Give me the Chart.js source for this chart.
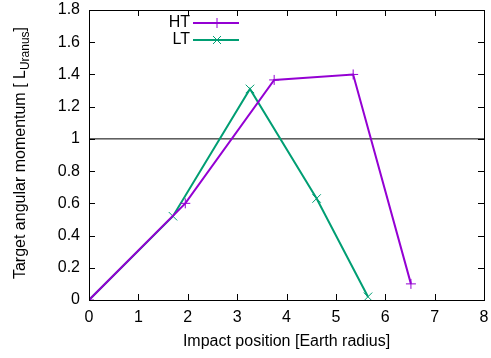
<!DOCTYPE html>
<html>
<head>
<meta charset="utf-8">
<script src="https://cdn.jsdelivr.net/npm/chart.js@4/dist/chart.umd.min.js"></script>
<style>
  html, body { margin: 0; padding: 0; background: #fff; }
  #wrap { width: 491px; height: 358px; }
</style>
</head>
<body>
<div id="wrap"><canvas id="grafico" width="491" height="358"></canvas></div>
<script>
// datos
var htX = [0, 1.95, 3.75, 5.35, 6.52];
var htY = [0, 0.60, 1.366, 1.40, 0.10];
var ltX = [0, 1.70, 3.26, 4.61, 5.65];
var ltY = [0, 0.52, 1.31, 0.63, 0.02];
var refX = [0, 8];
var refY = [1, 1];
var xTickLabels = ['0', '1', '2', '3', '4', '5', '6', '7', '8'];
var yTickLabels = ['0', '0.2', '0.4', '0.6', '0.8', '1', '1.2', '1.4', '1.6', '1.8'];

var FUENTE = '"Liberation Sans", Arial, Helvetica, sans-serif';
var PURPURA = '#9400d3';
var VERDE = '#009e73';
var TAM = 16;

function puntos(xs, ys) {
    return xs.map(function(x, i) { return { x: x, y: ys[i] }; });
}

// marco, ticks hacia adentro, titulos de ejes y leyenda estilo gnuplot
var decorado = {
    id: 'decorado',
    afterDraw: function(chart) {
        var ctx = chart.ctx;
        var a = chart.chartArea;
        var sx = chart.scales.x, sy = chart.scales.y;
        ctx.save();
        ctx.strokeStyle = '#000';
        ctx.lineWidth = 1;
        ctx.beginPath();
        xTickLabels.forEach(function(t, i) {
            var px = Math.round(sx.getPixelForValue(i)) + 0.5;
            ctx.moveTo(px, a.bottom); ctx.lineTo(px, a.bottom - 6);
            ctx.moveTo(px, a.top); ctx.lineTo(px, a.top + 6);
        });
        yTickLabels.forEach(function(t, i) {
            var py = Math.round(sy.getPixelForValue(i * 0.2)) + 0.5;
            ctx.moveTo(a.left, py); ctx.lineTo(a.left + 6, py);
            ctx.moveTo(a.right, py); ctx.lineTo(a.right - 6, py);
        });
        ctx.stroke();
        ctx.strokeRect(Math.round(a.left) + 0.5, Math.round(a.top) + 0.5,
            Math.round(a.right - a.left), Math.round(a.bottom - a.top));

        // titulo eje x
        ctx.fillStyle = '#000';
        ctx.font = TAM + 'px ' + FUENTE;
        ctx.textAlign = 'center';
        ctx.textBaseline = 'middle';
        ctx.fillText('Impact position [Earth radius]', (a.left + a.right) / 2, 342);

        // titulo eje y con subindice
        var t1 = 'Target angular momentum [ L';
        var t2 = 'Uranus';
        var t3 = ']';
        ctx.font = TAM + 'px ' + FUENTE;
        var w1 = ctx.measureText(t1).width;
        var w3 = ctx.measureText(t3).width;
        ctx.font = '12px ' + FUENTE;
        var w2 = ctx.measureText(t2).width;
        var total = w1 + w2 + w3;
        ctx.translate(25, (a.top + a.bottom) / 2 - 2);
        ctx.rotate(-Math.PI / 2);
        ctx.textAlign = 'left';
        ctx.textBaseline = 'alphabetic';
        var x0 = -total / 2;
        ctx.font = TAM + 'px ' + FUENTE;
        ctx.fillText(t1, x0, 0);
        ctx.font = '12px ' + FUENTE;
        ctx.fillText(t2, x0 + w1, 4);
        ctx.font = TAM + 'px ' + FUENTE;
        ctx.fillText(t3, x0 + w1 + w2, 0);
        ctx.restore();

        // leyenda
        ctx.save();
        ctx.font = TAM + 'px ' + FUENTE;
        ctx.textAlign = 'right';
        ctx.textBaseline = 'middle';
        chart.data.datasets.forEach(function(ds, i) {
            if (!ds.enLeyenda) return;
            var y = 23 + i * 17;
            ctx.fillStyle = '#000';
            ctx.fillText(ds.label, 190, y);
            ctx.strokeStyle = ds.borderColor;
            ctx.lineWidth = 2;
            ctx.beginPath();
            ctx.moveTo(193, y); ctx.lineTo(239, y);
            ctx.stroke();
            ctx.lineWidth = 1;
            ctx.beginPath();
            if (ds.pointStyle === 'cross') {
                ctx.moveTo(217 - 5, y); ctx.lineTo(217 + 5, y);
                ctx.moveTo(217, y - 5); ctx.lineTo(217, y + 5);
            } else {
                ctx.moveTo(217 - 4, y - 4); ctx.lineTo(217 + 4, y + 4);
                ctx.moveTo(217 - 4, y + 4); ctx.lineTo(217 + 4, y - 4);
            }
            ctx.stroke();
        });
        ctx.restore();
    }
};

var grafico = new Chart(document.getElementById('grafico'), {
    type: 'line',
    data: {
        datasets: [
            { label: 'HT', enLeyenda: true, data: puntos(htX, htY), borderColor: PURPURA, backgroundColor: PURPURA,
              borderWidth: 2, pointStyle: 'cross', pointRadius: 5, pointBorderWidth: 1, tension: 0, fill: false },
            { label: 'LT', enLeyenda: true, data: puntos(ltX, ltY), borderColor: VERDE, backgroundColor: VERDE,
              borderWidth: 2, pointStyle: 'crossRot', pointRadius: 6, pointBorderWidth: 1, tension: 0, fill: false },
            { label: 'ref', enLeyenda: false, data: puntos(refX, refY), borderColor: '#000', borderWidth: 1,
              pointRadius: 0, tension: 0, fill: false }
        ]
    },
    options: {
        responsive: false,
        animation: false,
        layout: { padding: { top: 10, right: 5, left: 0, bottom: 0 } },
        plugins: { legend: { display: false }, tooltip: { enabled: false } },
        scales: {
            x: {
                type: 'linear', min: 0, max: 8,
                grid: { display: false, drawTicks: false },
                border: { display: false },
                ticks: {
                    stepSize: 1, padding: 8, color: '#000', maxRotation: 0,
                    font: { family: FUENTE, size: TAM },
                    callback: function(v, i) { return xTickLabels[i]; }
                },
                afterFit: function(s) { s.height = 58; s.paddingLeft = 0; s.paddingRight = 0; }
            },
            y: {
                min: 0, max: 1.8,
                grid: { display: false, drawTicks: false },
                border: { display: false },
                ticks: {
                    stepSize: 0.2, padding: 9, color: '#000',
                    font: { family: FUENTE, size: TAM },
                    callback: function(v, i) { return yTickLabels[i]; }
                },
                afterFit: function(s) { s.width = 89; s.paddingTop = 0; s.paddingBottom = 0; }
            }
        }
    },
    plugins: [decorado]
});
</script>
</body>
</html>
